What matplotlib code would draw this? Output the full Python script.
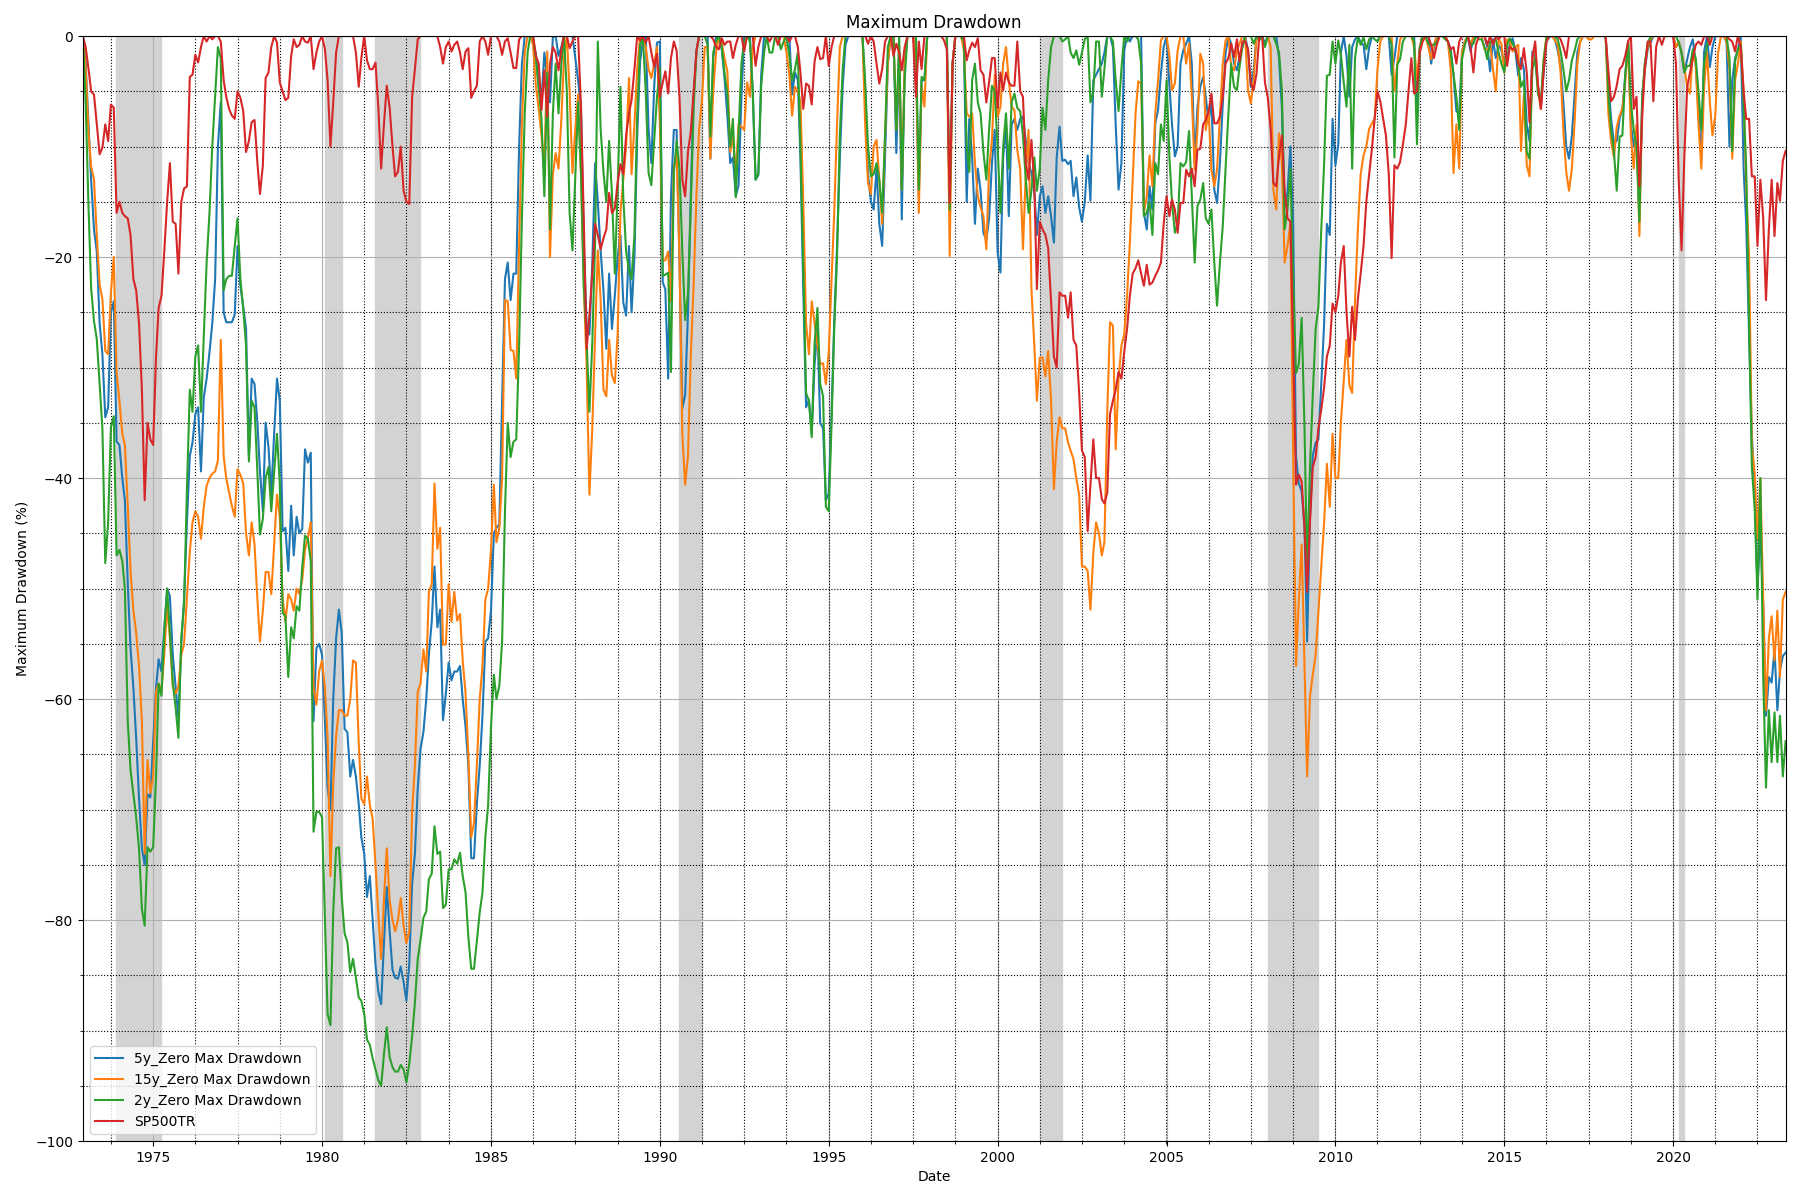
import matplotlib
matplotlib.use("Agg")
import matplotlib.pyplot as plt
import matplotlib.dates as mdates
import pandas as pd

# monthly drawdowns (%), Dec 1972 .. May 2023
start_month = "1972-12-01"

dd_5y = [
    0,
    -2.5, -8, -13, -17.5, -19.5, -26, -28.8, -34.5, -33.6, -25, -24, -36.7,  # 1973
    -37, -40, -42, -49.5, -55.4, -59, -63.5, -69, -73.5, -75, -68.6, -68.9,  # 1974
    -63.8, -59, -56.4, -57.5, -53.5, -50, -50.7, -56, -58.9, -61.7, -54.9, -51,  # 1975
    -44, -38, -36.8, -34.2, -33.6, -39.4, -32.7, -31, -28.6, -26, -22, -10,  # 1976
    -6, -25, -25.9, -25.9, -25.9, -25.2, -19, -22.6, -24.5, -26.5, -38, -31,  # 1977
    -31.5, -35, -39.4, -43, -35, -37.2, -41.5, -36, -31, -33, -44.8, -44.5,  # 1978
    -48.4, -42.5, -47, -43.5, -45, -44.6, -37.4, -38.6, -37.7, -62, -55.4, -55,  # 1979
    -56, -62, -68, -70, -60, -54.5, -51.9, -54, -62.7, -63, -67, -65.5,  # 1980
    -67, -69.5, -72.5, -74, -77.9, -76, -80, -84, -86.5, -87.6, -82, -77,  # 1981
    -81, -84.5, -85.2, -85.3, -84.2, -85.6, -87.3, -84, -76.7, -74, -68, -64.5,  # 1982
    -63, -60, -56, -53, -48, -53.5, -51.9, -61.9, -59.5, -56.7, -58.3, -57.5,  # 1983
    -57.5, -57, -60, -62.5, -66, -74.4, -74.4, -69.5, -66, -61.5, -54.8, -54.5,  # 1984
    -52, -45, -44.5, -44.2, -33, -22, -20.5, -23.9, -21.5, -21.5, -10, -2.5,  # 1985
    0, 0, 0, -0.5, -1.6, -4.6, -5.8, -1.5, -4, -6, -0.1, 0,  # 1986
    -1.8, -1, 0, 0, 0, 0, -2, -4, -6.5, -18.8, -26, -27,  # 1987
    -20.7, -11.5, -15, -19.5, -23, -28.3, -21.5, -26.5, -23.5, -20, -18, -24.1,  # 1988
    -25.3, -19, -25, -20, -9, -2.3, -0.5, 0, -8.5, -11.5, -4.5, -0.6,  # 1989
    -0.5, -22.3, -22.9, -31, -14.5, -8.5, -8.5, -20.5, -33.7, -32.5, -25, -14.5,  # 1990
    -5.5, -1.3, 0, 0, 0, 0, -11.1, -2, 0, 0, -1.2, -3.8,  # 1991
    -7.2, -11.5, -11, -14.5, -13.5, -5.5, 0, 0, 0, -5, -13, -12.6,  # 1992
    -3.5, 0, 0, 0, 0, 0, 0, 0, 0, 0, 0, -5.3,  # 1993
    -3.3, -4, -11, -23, -33.6, -32.9, -36, -29.7, -26.5, -35, -35.5, -42,  # 1994
    -41.4, -34, -26, -19, -11, -4.5, -0.8, 0, 0, 0, 0, 0,  # 1995
    0, -5, -12.5, -15, -15.7, -12, -17, -19, -11, -2.5, 0, 0,  # 1996
    -10.6, -1.5, -16.6, -2.5, 0, 0, 0, -2, -14.5, -4, -4, 0,  # 1997
    0, 0, 0, 0, 0, 0, 0, -15.7, -2.5, 0, 0, 0,  # 1998
    -0.5, -15, -7.5, -11, -17, -12, -14, -17.8, -18.5, -16.5, -11.5, -8.5,  # 1999
    -19.6, -21.4, -11, -8, -16.3, -8, -7.5, -8.5, -7.5, -7.3, -9.5, -11.5,  # 2000
    -12.4, -14, -18, -14.5, -13.6, -16, -14.5, -16.3, -18.7, -11, -8.2, -11.3,  # 2001
    -11.2, -11.6, -11.3, -14.5, -12.8, -15.5, -16.8, -15, -10.8, -14.9, -4, -3.5,  # 2002
    -3, -2.5, -1.5, 0, 0, -1, -8, -13.9, -11.5, -1.3, 0, -0.5,  # 2003
    0, 0, 0, 0, -16, -17.5, -13.6, -15.7, -7.9, -6.7, -3.4, -1,  # 2004
    0, -4.5, -8, -10.9, -10, -2.5, -1.3, -0.7, 0, -2.5, -11.5, -6.4,  # 2005
    -4.6, -3.7, -5.5, -7.9, -5.5, -13.9, -15.1, -11.5, -6.1, -1.6, 0, -0.7,  # 2006
    -2.5, -3.1, -1.9, -1, 0, -1.3, -4.6, -3.1, 0, 0, 0, -0.7,  # 2007
    0, 0, 0, 0, -2, -6.5, -15.4, -14.2, -10, -17, -38, -40.5,  # 2008
    -41.2, -44.5, -54.8, -43.5, -38, -36.8, -36.5, -31.5, -26, -17, -18, -7.5,  # 2009
    -11.7, -9.8, -1.5, 0, -1.8, -5.5, -1, -0.3, 0, -0.6, -0.8, -3,  # 2010
    -1, 0, 0, 0, 0, 0, 0, 0, -3.5, -2, 0, 0,  # 2011
    0, 0, 0, 0, 0, -6.6, -1, 0, 0, 0, -2.5, -1,  # 2012
    0, 0, 0, 0, -0.5, -1.2, -3.5, -6.8, -7, -1.4, -0.5, 0,  # 2013
    -1.4, -0.2, 0, 0, 0, 0, -1, -3.2, -0.3, -2, -0.8, -1.3,  # 2014
    -2.5, -2, -0.8, -0.2, -1.4, -3.6, -2, -3, -8, -9.5, -1.4, -1.8,  # 2015
    -4.5, -6.5, -3.3, -0.5, -0.1, 0, -0.3, -1.3, -2.7, -6, -10, -11.1,  # 2016
    -9, -5, -1.5, -0.5, 0, 0, 0, 0, 0, 0, 0, 0,  # 2017
    0, -4.4, -7.5, -9.7, -9.5, -7.5, -6.6, -3.5, -0.5, -8, -10, -9,  # 2018
    -16.2, -5.3, -3, -1.2, -0.6, 0, 0, 0, 0, 0, 0, 0,  # 2019
    0, -1, -0.5, -1.5, -3.3, -2.1, -1, -0.3, -2.5, -7, -11.1, -1.4,  # 2020
    0, -2.8, -1, 0, 0, 0, 0, -0.6, -10, -4, -2, -1.3,  # 2021
    0, -12, -17, -27, -36, -41.6, -50, -44.5, -51.6, -61.5, -58, -58.5,  # 2022
    -55.5, -61, -57.4, -56.1, -55.8,  # 2023
]

dd_15y = [
    0,
    -3, -8.8, -11.8, -13, -18, -22.5, -23.8, -28.5, -28.8, -23.2, -20, -30.4,  # 1973
    -33, -36, -37, -42.5, -48.4, -52, -54, -57, -62, -74, -65.5, -68.5,  # 1974
    -67, -59.3, -58.6, -59.2, -56, -51.5, -54.5, -58.9, -59.5, -58.8, -56, -55,  # 1975
    -50.9, -46.7, -44, -43, -43.5, -45.5, -42.6, -40.7, -40, -39.6, -39.4, -38.4,  # 1976
    -27.5, -38, -40, -41.3, -42.5, -43.5, -39.2, -39.7, -40.5, -45, -47, -44,  # 1977
    -46, -51, -54.8, -52, -48.5, -48.5, -50.5, -46, -41.5, -43.5, -50.9, -53,  # 1978
    -50.5, -51, -52, -50, -50.5, -49.2, -46.5, -45.4, -44, -59, -60.5, -57.5,  # 1979
    -56.5, -59, -63.5, -76, -67.7, -63.3, -61, -61, -61.5, -61.5, -60, -56.5,  # 1980
    -56.7, -64, -69, -69.5, -67, -69.6, -70.8, -75, -79.5, -83.5, -78, -73.5,  # 1981
    -78.2, -80, -81, -80, -78, -80.5, -82.1, -81, -70.2, -66, -59.3, -58.6,  # 1982
    -55.5, -57.5, -50.3, -49.6, -40.5, -46.4, -44.5, -55.1, -55, -49.6, -53, -50.3,  # 1983
    -52.9, -52.3, -56.5, -59.5, -65, -72.5, -71.2, -66, -60, -57, -51, -50,  # 1984
    -46.5, -40.6, -45.8, -44.5, -40, -23.9, -24, -28.4, -28.5, -31, -19, -8,  # 1985
    -1.5, 0, 0, -0.8, -4.5, -6.6, -9, -12, -1.4, -20, -12.5, -10.6,  # 1986
    -12, -7.5, -2, 0, -5, -12.4, -8.5, -5.3, -12.5, -22.5, -29.8, -41.5,  # 1987
    -35.5, -27, -19.4, -24, -32, -32.6, -27.5, -30.7, -31.4, -27, -16, -13,  # 1988
    -10, -3.8, -12.5, -8, -3, 0, -0.3, -1, -3, -3.8, -2.5, -1,  # 1989
    -8, -20.3, -20.3, -19.5, -24, -12, -10.6, -20, -36, -40.6, -38, -29,  # 1990
    -22.5, -14.3, -8.5, -5.9, -1, -1, -11.1, -5, -1.5, 0, -0.6, -2,  # 1991
    -3.2, -10.5, -9, -12.5, -8, -8.2, -8.5, -4.2, -5.5, -1, 0, 0,  # 1992
    0, 0, 0, 0, 0, 0, 0, 0, 0, -1.5, -3.5, -7.2,  # 1993
    -4.6, -5, -5.9, -15, -26, -28.8, -24, -26, -28, -29.7, -29.6, -31.5,  # 1994
    -28.6, -22, -16, -8, -1, 0, 0, 0, 0, 0, 0, 0,  # 1995
    0, -8.5, -13.3, -14.3, -10, -9.4, -13, -17, -9, -2.5, 0, 0,  # 1996
    -8.5, -1, -13.9, -2.5, 0, 0, 0, -2, -16, -4.5, -6.4, 0,  # 1997
    0, 0, 0, 0, 0, 0, 0, -19.9, -2.5, 0, 0, 0,  # 1998
    -1.2, -7, -7.3, -7, -11.5, -14.5, -15.5, -16.3, -19.3, -12, -9.4, -3.5,  # 1999
    -7.3, -6.4, -2.5, -1, -4, -6.4, -6.7, -10.3, -12, -19.3, -12.4, -8.5,  # 2000
    -22.9, -28, -33, -29.1, -29.1, -30.8, -28.5, -33, -41, -36.7, -34.5, -35.5,  # 2001
    -35.5, -36.8, -37.5, -38.3, -40, -41.5, -48, -48, -48.4, -51.9, -46.8, -44,  # 2002
    -45, -47, -45.8, -34, -25.9, -26.2, -37.4, -31, -28, -27, -23.5, -18.7,  # 2003
    -13, -7, -4.1, -4.3, -16, -14.5, -10.8, -13.6, -7, -4, -0.4, 0,  # 2004
    0, -1.8, -4.9, -4.3, -1.3, 0, 0, -2.5, -0.7, -5.5, -12.1, -8.5,  # 2005
    -1.6, -2.5, -8.5, -6.7, -12.1, -13.6, -12.1, -7.3, -2.5, -0.4, 0, -2.8,  # 2006
    -3.1, -1.3, -0.7, 0, 0, -4.9, -6.1, -4, 0, 0, 0, 0,  # 2007
    0, -1, -13.9, -15.7, -8.8, -11.5, -20.5, -19, -17, -38, -57, -51,  # 2008
    -46, -57, -67, -59.8, -57.8, -56, -52, -48, -44, -38.7, -42.6, -36,  # 2009
    -40, -40, -35, -31.2, -27.5, -31.6, -32.3, -23.9, -17.5, -12.5, -10.8, -10,  # 2010
    -8.4, -7.9, -7.5, -3, -0.5, 0, 0, 0, 0, -5, -2.5, -0.3,  # 2011
    0, 0, 0, 0, -1, -4, -1, 0, 0, -1, -2.1, -0.8,  # 2012
    0, 0, 0, 0, -0.5, -3, -12.4, -8, -12, -1.4, -0.5, 0,  # 2013
    -0.8, 0, 0, 0, 0, -1.2, -1.2, -0.8, -3, -5, -0.3, -0.7,  # 2014
    -3.3, -0.3, -0.5, -1.4, -1, -0.8, -10.4, -5.3, -11.7, -12.7, -2, -0.8,  # 2015
    -5, -6.6, -2.2, -0.1, 0, 0, -0.4, -0.8, -3.3, -8.6, -12.3, -14,  # 2016
    -12, -7.5, -2.5, -0.5, 0, 0, -0.3, -0.3, 0, 0, 0, 0,  # 2017
    0, -7.2, -9.5, -11, -8.2, -7.2, -6.6, -4.2, -0.5, -9, -12, -8,  # 2018
    -18.1, -5.9, -2.5, -1, -0.3, 0, 0, 0, 0, 0, 0, 0,  # 2019
    0, -1, -0.5, -1.5, -2.8, -4.6, -5.2, -1.5, -2.5, -8, -12, -4.5,  # 2020
    -1.5, -6, -9, -7.2, -1.5, 0, 0, -0.5, -3, -11.1, -4, -2.5,  # 2021
    -0.5, -5, -13.5, -20, -37, -39.6, -45.5, -40, -51, -61, -54.5, -52.5,  # 2022
    -56.5, -52, -58, -51, -50.3,  # 2023
]

dd_2y = [
    0,
    -6, -15.5, -22.8, -25.8, -27.4, -31.5, -35.5, -47.7, -44, -35.4, -34.4, -47,  # 1973
    -46.5, -47.5, -50, -62, -66.4, -68.6, -70.7, -73.5, -79, -80.5, -73.4, -73.8,  # 1974
    -73.4, -67, -58.6, -59.7, -54, -50, -54, -58.5, -60.8, -63.5, -54.5, -51.5,  # 1975
    -41, -32, -34, -29, -28, -34, -27.2, -20.5, -16, -10, -5.5, -1,  # 1976
    -2, -23, -22, -21.7, -21.7, -19, -16.5, -22, -24.7, -28, -38.5, -33,  # 1977
    -33.6, -39.5, -45.1, -43.7, -40, -39, -43, -39.5, -36, -40.5, -52.2, -52.5,  # 1978
    -58, -53.5, -54.5, -51.6, -52, -48, -45.2, -45.5, -47.5, -72, -70.2, -70.2,  # 1979
    -70.7, -80, -88.5, -89.5, -79.3, -73.5, -73.4, -78, -81.2, -82, -84.7, -83.5,  # 1980
    -85.2, -87, -87.3, -88.5, -90.8, -91.3, -92.5, -93.5, -94.5, -95, -92.1, -89.7,  # 1981
    -92.4, -93.3, -93.7, -93.7, -93.1, -93.5, -94.7, -93, -90.5, -87.5, -83.5, -81.8,  # 1982
    -79.8, -79.2, -76.3, -75.8, -71.5, -74, -73.8, -78.9, -78.6, -75.4, -75.4, -74.5,  # 1983
    -74.9, -73.9, -76, -77.5, -81.5, -84.4, -84.4, -81.9, -79.3, -77.5, -72.5, -69.6,  # 1984
    -62.5, -57.8, -60, -58.8, -54.8, -43, -35, -38.1, -36.7, -36.5, -28, -16.5,  # 1985
    -7, -1.5, 0, 0, -2, -4.7, -7.5, -14.5, -3.3, -17.5, -7, -2.5,  # 1986
    -7, -2.5, 0, -5, -16, -19.4, -12.8, -6, -12.4, -22.6, -27.5, -34,  # 1987
    -27.8, -18.5, -0.5, -8.5, -12.3, -15, -9.5, -14.3, -21.5, -14, -4.6, -14.5,  # 1988
    -19.5, -21.2, -22, -18, -7.2, -0.8, 0, -5, -12.4, -13.5, -9.5, -5.5,  # 1989
    -2.9, -21.7, -21.6, -21.4, -30.4, -12.4, -9.5, -12, -19.5, -25.7, -23.3, -15.5,  # 1990
    -6.5, -1.4, 0, 0, 0, -0.8, -9.1, -1.5, -0.5, 0, -1, -3.3,  # 1991
    -5.3, -10, -7.5, -14.6, -8.8, -2.5, -0.5, 0, -0.5, -5, -13, -12.4,  # 1992
    -4.5, -1.5, 0, -1.5, -1.5, 0, 0, -1.2, -0.5, 0, -1.8, -4,  # 1993
    -3, -1.5, -10, -21, -32.3, -33, -36.3, -27.8, -24.6, -31.5, -32.6, -42.6,  # 1994
    -43, -35, -26.5, -20, -9, -3, 0, 0, 0, 0, 0, 0,  # 1995
    0, -4.5, -10, -12.7, -12.5, -11.5, -13, -16, -9, -1, 0, 0,  # 1996
    -8.5, 0, -13.9, -4, 0, 0, 0, 0, -13.9, -3.7, -4, 0,  # 1997
    0, 0, 0, 0, 0, 0, 0, -15.7, -2.5, 0, 0, 0,  # 1998
    -0.5, -10, -12.3, -4, -2.5, -6, -7, -10.5, -13, -8.5, -4.5, -5,  # 1999
    -10, -16, -10, -7, -12, -6, -5.2, -6.5, -6.8, -9, -13, -16,  # 2000
    -14, -11, -14, -12, -6.5, -8.5, -4, -1, 0, 0, 0, -0.5,  # 2001
    -0.3, 0, -1.5, -2, -1.3, -2.6, -1.5, -0.3, 0, -6, -5, -0.5,  # 2002
    -0.5, -5.5, -3, 0, 0, -0.5, -4, -6.8, -3, 0, -0.5, 0,  # 2003
    0, 0, -0.3, -2.5, -16.3, -16, -15, -18, -11.5, -12.5, -8, -9.5,  # 2004
    -4, -11, -15, -17.8, -17, -11.5, -11.8, -11.4, -8.6, -14.5, -20.5, -15.4,  # 2005
    -14.8, -13.3, -16.5, -17, -15.7, -20.5, -24.4, -20.5, -17.2, -12, -7, -2.5,  # 2006
    -4.6, -4.9, -2.8, -1, 0, 0, 0, -0.7, 0, -0.4, 0, -1,  # 2007
    0, 0, 0, -0.7, -1.5, -4.9, -17.5, -15.7, -12, -22, -30.5, -29.7,  # 2008
    -25.5, -35.5, -48.5, -39, -32.5, -26.5, -24.5, -17.5, -11.5, -3.6, -3.5, -0.5,  # 2009
    -2.5, -0.4, -1.7, -4.2, -6.4, -0.8, -12, -2, -0.1, -0.8, -0.1, -1.2,  # 2010
    -0.3, 0, -0.3, -0.5, 0, 0, 0, 0, -0.8, -11, -2.6, -2.1,  # 2011
    -0.5, 0, 0, 0, -0.5, -9.8, -1.2, 0, 0, -0.7, -0.8, -0.8,  # 2012
    -0.5, 0, 0, -0.3, -0.5, -1.5, -3.5, -5.5, -8.5, -2.1, -0.8, 0,  # 2013
    -0.8, -0.7, 0, -0.3, -0.3, -1, -2.1, -0.5, -0.5, -0.3, -1.5, -2.5,  # 2014
    -3.3, -0.8, -0.2, -0.7, -1.2, -2.5, -4.6, -4, -10.5, -11.1, -3, -2,  # 2015
    -5.3, -5.9, -2.2, -0.1, 0, 0, 0, -0.3, -1.4, -3, -5, -4,  # 2016
    -2.2, -1.3, -0.3, 0, 0, 0, 0, 0, 0, 0, 0, 0,  # 2017
    0, -5.5, -8.5, -10.5, -14, -9.1, -9, -3.5, -0.5, -6, -8.5, -10,  # 2018
    -16.8, -5.5, -2.5, -0.6, -0.1, 0, 0, 0, 0, 0, 0, 0,  # 2019
    0, 0, -0.6, -1.5, -3.3, -2.7, -2.7, -1.2, -2, -5, -8.5, -2.5,  # 2020
    -0.8, -0.1, 0, 0, 0, 0, 0, 0, -2, -10.4, -2.3, -1.2,  # 2021
    -0.8, -6, -12, -26, -39, -42.8, -51, -40, -58, -68, -61, -65.7,  # 2022
    -61.2, -65.7, -61.5, -67, -63.8,  # 2023
]

dd_sp500tr = [
    0,
    -1, -3, -5, -5.3, -8, -10.7, -10.1, -8, -9.5, -6.2, -6.5, -16,  # 1973
    -15, -16, -16.3, -16.5, -18, -22, -23, -26, -32, -42, -35, -36.5,  # 1974
    -37, -29, -24.6, -23.5, -19.5, -15, -11.5, -16.8, -17, -21.5, -15, -13.8,  # 1975
    -13.6, -3.7, -3.5, -1.7, -2.4, -1, 0, -0.5, 0, -0.3, 0, 0,  # 1976
    -0.5, -4, -5.5, -6.6, -7.2, -7.5, -5, -5.6, -6.8, -10.5, -9.5, -7.8,  # 1977
    -7.6, -11.5, -14.3, -11.7, -3.8, -3.3, -1, 0, -0.6, -4.2, -5, -5.8,  # 1978
    -5.6, -1.8, -0.3, -1, -0.8, 0, -0.5, -0.6, 0, -3, -1.5, -0.5,  # 1979
    0, -1.2, -4, -10, -6, -1.5, 0, 0, 0, 0, 0, 0,  # 1980
    -1.5, -4.6, -2, 0, -2.2, -3, -3, -2.4, -6.5, -12, -7.9, -4.5,  # 1981
    -6.5, -10, -12.7, -12.3, -10, -14, -15, -15.2, -5.5, -3, -0.3, 0,  # 1982
    0, 0, 0, 0, 0, 0, -1, -2.5, -1, -0.5, -1.4, -0.8,  # 1983
    -0.5, -1.5, -3, -1.4, -1.1, -5.6, -5, -4.5, -0.5, 0, -0.5, -1.7,  # 1984
    0, 0, 0, -0.5, -1.7, -0.5, -0.2, -1.5, -2.9, -2.9, -0.3, 0,  # 1985
    0, 0, 0, 0, -1.8, -2.5, -6.7, -3.1, -7.3, -2.5, -1, -1.5,  # 1986
    -3.1, -1.2, 0, 0, -1.1, -0.5, 0, 0, -6.4, -16.5, -28.3, -25.3,  # 1987
    -21.5, -17, -18, -19.3, -18.3, -17.5, -14.2, -16, -15.6, -13.3, -11.6, -12.5,  # 1988
    -9, -7, -5.8, -3, 0, -0.4, 0, -0.6, 0, -1.5, -2.8, -1.6,  # 1989
    -5.5, -4.2, -3.2, -5.2, -2, -0.5, -1.3, -5.5, -13, -14.5, -10.5, -8.7,  # 1990
    -5, -1.3, 0, 0, 0, 0, 0, -0.3, -1, -1.2, -0.2, -0.8,  # 1991
    -0.5, -0.5, -2, -0.8, 0, 0, -1.4, 0, 0, 0, -2.7, -1,  # 1992
    0, 0, 0, -0.5, 0, 0, -0.8, 0, 0, 0, -0.5, 0,  # 1993
    0, -1, -3.3, -6.6, -4.3, -4.5, -6.2, -2.3, -1, -2.1, -2, 0,  # 1994
    -2.7, -1, 0, 0, 0, 0, 0, 0, 0, 0, 0, 0,  # 1995
    0, 0, -0.7, 0, -0.5, -2.5, -4.3, -3, -0.5, 0, 0, -1.8,  # 1996
    -0.7, -1.5, -3.1, -1, 0, 0, 0, -5.5, -0.5, -3, 0, 0,  # 1997
    0, 0, 0, 0, 0, -0.4, -1.2, -15.1, -2.5, 0, 0, 0,  # 1998
    0, -2.2, -1.3, -0.6, -1, -0.2, -3.1, -3.5, -6, -4.2, -2, -2,  # 1999
    -6.5, -3.3, -4.9, -3.3, -4.2, -4.5, -4.5, -0.5, -5, -5.5, -11.5, -13,  # 2000
    -9.4, -13.5, -22.9, -16.8, -17.5, -18, -19.2, -24, -29, -30, -23.2, -23.5,  # 2001
    -23.5, -25.5, -23.2, -27.5, -28, -32.3, -37.5, -38.1, -44.8, -40.6, -36.5, -40,  # 2002
    -40, -41.9, -42.3, -41.3, -34.2, -33, -32, -30.4, -31, -28.6, -26.5, -23.5,  # 2003
    -21.5, -21, -20.3, -21.5, -22.6, -20.7, -22.5, -22.3, -21.7, -21.2, -20.5, -17,  # 2004
    -14.5, -16.3, -14.8, -15.7, -17.8, -15.1, -15.1, -12.1, -12.7, -12, -13.6, -10.3,  # 2005
    -10.2, -8, -7.6, -6.8, -5.2, -7.9, -7.9, -7.3, -5.5, -2.5, -2, -0.7,  # 2006
    -1.9, -0.3, -2.3, -0.5, -0.5, -1.2, -4.3, -4.9, -3.4, 0, 0, -4.2,  # 2007
    -5.6, -8.5, -13.3, -13.6, -10.9, -9, -14, -16.5, -16.8, -28, -40.6, -39.7,  # 2008
    -40.3, -44.5, -50.3, -44, -39, -38.1, -35.5, -33.8, -31.8, -29, -28, -24.2,  # 2009
    -25, -23.5, -20.5, -19, -25, -29, -24.5, -27.5, -23.8, -21.5, -19, -15,  # 2010
    -12.5, -10.1, -7.5, -5, -5.9, -7.5, -9, -12.5, -20.1, -11.7, -12, -11.4,  # 2011
    -9.8, -8, -5, -2, -5.2, -5, -1.5, -0.5, 0, 0, -0.8, -2,  # 2012
    -0.8, 0, 0, 0, -0.5, -1.2, -1, -2.5, -0.5, 0, 0, 0,  # 2013
    -1, -3.3, -0.8, 0, 0, 0, -0.8, 0, -0.8, 0, -0.3, 0,  # 2014
    0, -2.7, -1, -1.2, -1.1, -2.5, -3, -1.1, -3.3, -7.8, -2, -0.5,  # 2015
    -4.5, -6.6, -3.3, -0.5, 0, 0, 0, 0, -0.3, -1, -2, 0,  # 2016
    0, 0, 0, 0, 0, 0, 0, 0, 0, 0, 0, 0,  # 2017
    0, -3.3, -5.9, -5.5, -4.5, -3, -2.7, -1.8, -0.5, 0, -6.6, -5.5,  # 2018
    -13.6, -7.2, -3, -0.5, -0.5, -5.9, -1, 0, -0.8, 0, 0, 0,  # 2019
    0, -2.5, -13, -19.4, -10.9, -4.6, -3.3, -2, -0.8, -0.5, -0.8, 0,  # 2020
    0, -0.8, 0, 0, 0, 0, 0, 0, -0.3, -0.5, -1.4, 0,  # 2021
    -1, -5, -7.5, -7.5, -12.7, -12.7, -19, -13, -16.5, -23.9, -17.5, -13,  # 2022
    -18.1, -13.3, -14.9, -11.3, -10.4,  # 2023
]

series_labels = ["5y_Zero Max Drawdown", "15y_Zero Max Drawdown",
                 "2y_Zero Max Drawdown", "SP500TR"]

# NBER recessions (peak month end, trough month end)
recession_start = ["1973-11-30", "1980-01-31", "1981-07-31", "1990-07-31",
                   "2001-03-31", "2007-12-31", "2020-02-29"]
recession_end = ["1975-03-31", "1980-07-31", "1982-11-30", "1991-03-31",
                 "2001-11-30", "2009-06-30", "2020-04-30"]


def main():
    dates = pd.date_range(start_month, periods=len(dd_5y), freq="MS")

    fig, ax = plt.subplots(figsize=(18, 12), dpi=100)

    for s, e in zip(recession_start, recession_end):
        ax.axvspan(pd.Timestamp(s), pd.Timestamp(e), color="lightgray", zorder=0)

    for values, label in zip([dd_5y, dd_15y, dd_2y, dd_sp500tr], series_labels):
        ax.plot(dates, values, label=label)

    ax.set_ylim(-100, 0)
    ax.set_xlim(dates[0], dates[-1])
    ax.xaxis.set_major_locator(mdates.YearLocator(5))
    ax.xaxis.set_major_formatter(mdates.DateFormatter("%Y"))
    ax.minorticks_on()
    ax.grid(which="major")
    ax.grid(which="minor", linestyle=":", color="black")

    ax.set_title("Maximum Drawdown")
    ax.set_xlabel("Date")
    ax.set_ylabel("Maximum Drawdown (%)")
    ax.legend(loc="lower left")

    fig.subplots_adjust(left=0.046, right=0.992, top=0.97, bottom=0.049)
    fig.savefig("out.png")


if __name__ == "__main__":
    main()
